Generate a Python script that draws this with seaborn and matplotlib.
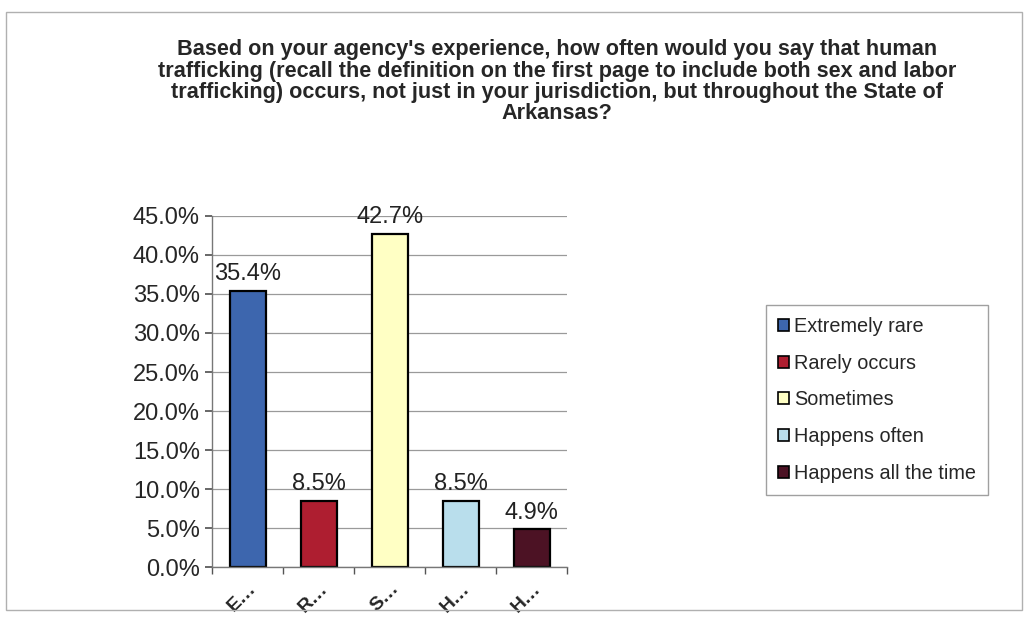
import matplotlib
matplotlib.use("Agg")
import matplotlib.pyplot as plt
import matplotlib.patches as mpatches
import pandas as pd
import seaborn as sns

# data
categories = ["Extremely rare", "Rarely occurs", "Sometimes", "Happens often", "Happens all the time"]
tick_labels = ["E…", "R…", "S…", "H…", "H…"]
percent = [35.4, 8.5, 42.7, 8.5, 4.9]
colors = ["#3D66AE", "#AE1E30", "#FFFFC4", "#B9DEEC", "#4C1224"]

title = ("Based on your agency's experience, how often would you say that human\n"
         "trafficking (recall the definition on the first page to include both sex and labor\n"
         "trafficking) occurs, not just in your jurisdiction, but throughout the State of\n"
         "Arkansas?")

df = pd.DataFrame({"Answer": categories, "Percent": percent})

sns.set_theme(style="white")
plt.rcParams["font.family"] = ["Liberation Sans", "DejaVu Sans"]

fig = plt.figure(figsize=(10.26, 6.22), dpi=100)
ax = fig.add_axes([0.207, 0.088, 0.346, 0.565])

sns.barplot(data=df, x="Answer", y="Percent", hue="Answer", palette=colors, saturation=1,
            width=0.5, edgecolor="black", linewidth=1.6, legend=False, ax=ax)

ax.set_ylim(0, 45)
ax.set_xlim(-0.5, len(categories) - 0.5)
ax.set_yticks(range(0, 50, 5))
ax.set_yticklabels([f"{v:.1f}%" for v in range(0, 50, 5)], fontsize=17)
ax.yaxis.grid(True, color="#9a9a9a", linewidth=0.9)
ax.set_axisbelow(True)
ax.set_xlabel("")
ax.set_ylabel("")
ax.set_xticks(range(len(categories)))
ax.set_xticklabels(tick_labels, rotation=45, ha="right", va="top",
                   rotation_mode="anchor", fontsize=14, fontweight="bold")
ax.set_xticks([i - 0.5 for i in range(len(categories) + 1)], minor=True)
ax.tick_params(axis="x", which="major", length=0, pad=9)
ax.tick_params(axis="x", which="minor", length=5, color="#555555", direction="out", bottom=True)
ax.tick_params(axis="y", length=5, color="#555555", left=True, pad=4)

for s in ["top", "right"]:
    ax.spines[s].set_visible(False)
for s in ["left", "bottom"]:
    ax.spines[s].set_color("#777777")
    ax.spines[s].set_linewidth(1.0)

for i, v in enumerate(percent):
    ax.text(i, v + 0.7, f"{v}%", ha="center", va="bottom", fontsize=17, color="#222222")

fig.text(0.543, 0.937, title, ha="center", va="top", fontsize=15.6,
         fontweight="bold", linespacing=1.02)

handles = [mpatches.Patch(facecolor=c, edgecolor="black", linewidth=1.2) for c in colors]
leg = fig.legend(handles, categories, loc="upper left", bbox_to_anchor=(0.747, 0.51),
                 fontsize=14.3, frameon=True, fancybox=False, edgecolor="#888888",
                 handlelength=0.55, handleheight=0.55, handletextpad=0.25,
                 labelspacing=0.9, borderpad=0.6, borderaxespad=0)
leg.get_frame().set_linewidth(1.0)

# outer chart frame
fig.patches.append(mpatches.Rectangle((0.006, 0.02), 0.99, 0.96, transform=fig.transFigure,
                                      fill=False, edgecolor="#b0b0b0", linewidth=1.0))

fig.savefig("out.png", dpi=100)
